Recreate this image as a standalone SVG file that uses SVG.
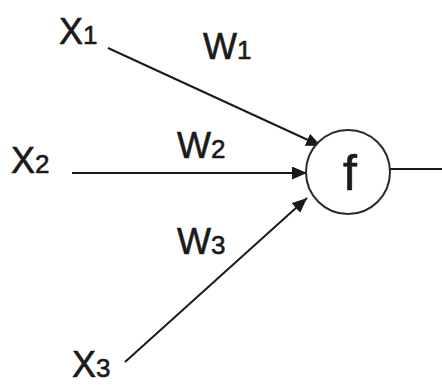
<svg xmlns="http://www.w3.org/2000/svg" width="442" height="385" viewBox="0 0 442 385">
<style>
.lbl{font-family:"Liberation Sans",Arial,sans-serif;fill:#1a1a1a;stroke:#1a1a1a;stroke-width:0.6;font-size:36px}
.sub{font-size:26px}
.edge{stroke:#1a1a1a;stroke-width:2;fill:none}
</style>
<defs>
<marker id="arr" markerUnits="userSpaceOnUse" markerWidth="16" markerHeight="14" refX="15" refY="6.5" orient="auto">
<path d="M0,0 L15,6.5 L0,13 Z" fill="#1a1a1a"/>
</marker>
</defs>
<rect width="442" height="385" fill="#fff"/>
<g id="connectors">
<line class="edge" x1="108" y1="48" x2="321" y2="146" marker-end="url(#arr)"/>
<line class="edge" x1="72" y1="173" x2="307" y2="173" marker-end="url(#arr)"/>
<line class="edge" x1="125" y1="362" x2="307" y2="198" marker-end="url(#arr)"/>
<line class="edge" x1="390" y1="169" x2="442" y2="169"/>
</g>
<g id="node-f">
<circle cx="348" cy="172" r="42" fill="#fff" stroke="#2a2a2a" stroke-width="2"/>
<text class="lbl" x="350" y="190" text-anchor="middle" style="font-size:50px">f</text>
</g>
<g id="node-x1"><text class="lbl" x="59" y="44">X<tspan class="sub">1</tspan></text></g>
<g id="node-x2"><text class="lbl" x="11" y="173">X<tspan class="sub">2</tspan></text></g>
<g id="node-x3"><text class="lbl" x="72" y="377">X<tspan class="sub">3</tspan></text></g>
<g id="label-w1"><text class="lbl" x="203" y="59">W<tspan class="sub">1</tspan></text></g>
<g id="label-w2"><text class="lbl" x="177" y="158">W<tspan class="sub">2</tspan></text></g>
<g id="label-w3"><text class="lbl" x="177" y="254">W<tspan class="sub">3</tspan></text></g>
</svg>
